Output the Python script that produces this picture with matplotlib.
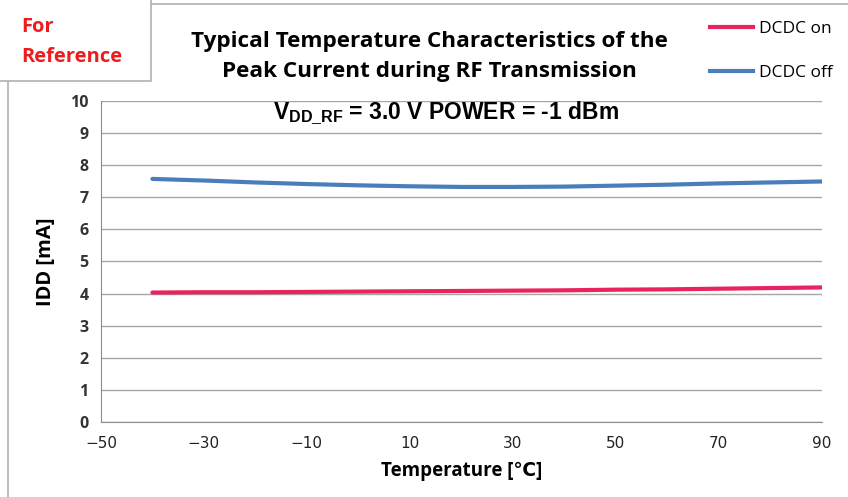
import matplotlib
matplotlib.use('Agg')
import matplotlib.pyplot as plt
from matplotlib.patches import Rectangle
from matplotlib.lines import Line2D

# data
temps = [-40, -30, -20, -10, 0, 10, 20, 30, 40, 50, 60, 70, 80, 90]
dcdc_on = [4.03, 4.04, 4.04, 4.05, 4.06, 4.07, 4.08, 4.09, 4.10, 4.12, 4.13, 4.15, 4.17, 4.19]
dcdc_off = [7.57, 7.52, 7.46, 7.41, 7.37, 7.34, 7.32, 7.32, 7.33, 7.36, 7.39, 7.43, 7.46, 7.49]
series_names = ['DCDC on', 'DCDC off']
series_colors = ['#e8245f', '#4a7ebb']
x_ticks = [-50, -30, -10, 10, 30, 50, 70, 90]
y_ticks = list(range(0, 11))

plt.rcParams['mathtext.fontset'] = 'custom'
plt.rcParams['mathtext.bf'] = 'Liberation Sans:bold'
plt.rcParams['mathtext.rm'] = 'Liberation Sans'

bold_font = ['Open Sans', 'DejaVu Sans']

fig = plt.figure(figsize=(8.48, 4.97), dpi=100)
ax = fig.add_axes([0.119, 0.151, 0.850, 0.646])

ax.plot(temps, dcdc_on, color=series_colors[0], lw=3, solid_capstyle='round')
ax.plot(temps, dcdc_off, color=series_colors[1], lw=3, solid_capstyle='round')

ax.set_xlim(-50, 90)
ax.set_ylim(0, 10)
ax.set_xticks(x_ticks)
ax.set_xticklabels(['\u2212' + str(-t) if t < 0 else str(t) for t in x_ticks],
                   family=['Liberation Sans Narrow', 'DejaVu Sans'], fontsize=11,
                   color='#222222')
ax.set_yticks(y_ticks)
ax.set_yticklabels([str(v) for v in y_ticks], family=bold_font,
                   fontweight='bold', fontsize=11.5, color='#333333')
ax.tick_params(length=0, pad=9)
ax.tick_params(axis='x', pad=10)
ax.grid(axis='y', color='#a6a6a6', lw=1)
ax.set_axisbelow(True)
for s in ['top', 'right']:
    ax.spines[s].set_visible(False)
for s in ['left', 'bottom']:
    ax.spines[s].set_color('#8c8c8c')

ax.set_ylabel('IDD [mA]', family=bold_font, fontweight='bold', fontsize=14.5, labelpad=10)
ax.set_xlabel('Temperature [\u2103]', family=bold_font, fontweight='bold',
              fontsize=13.5, labelpad=7)

ax.text(0.479, 0.962, r'$\mathbf{V}_{\mathbf{DD\_RF}}$ = 3.0 V POWER = -1 dBm',
        transform=ax.transAxes, ha='center', va='center', fontsize=16.5,
        fontweight='bold', family='Liberation Sans')

fig.text(0.507, 0.887, 'Typical Temperature Characteristics of the\nPeak Current during RF Transmission',
         ha='center', va='center', fontsize=16.2, fontweight='bold',
         family=bold_font, linespacing=1.55, color='black')

# outer chart border
fig.add_artist(Rectangle((0.010, -0.01), 1.1, 1.002, transform=fig.transFigure,
                         fill=False, edgecolor='#b0b0b0', lw=1.2))
# "For Reference" box
fig.add_artist(Rectangle((-0.01, 0.838), 0.188, 0.17, transform=fig.transFigure,
                         facecolor='white', edgecolor='#b0b0b0', lw=1.2))
fig.text(0.025, 0.946, 'For', color='#ee1c1c', fontsize=14.5, fontweight='bold',
         family=bold_font, va='center')
fig.text(0.025, 0.886, 'Reference', color='#ee1c1c', fontsize=14.5, fontweight='bold',
         family=bold_font, va='center')

handles = [Line2D([], [], color=c, lw=3) for c in series_colors]
fig.legend(handles, series_names, loc='upper right', bbox_to_anchor=(1.0, 0.99),
           frameon=False, prop={'family': ['Open Sans', 'DejaVu Sans'], 'size': 12.5},
           handlelength=2.5, handletextpad=0.3, labelspacing=1.6)

fig.savefig('out.png', dpi=100)
